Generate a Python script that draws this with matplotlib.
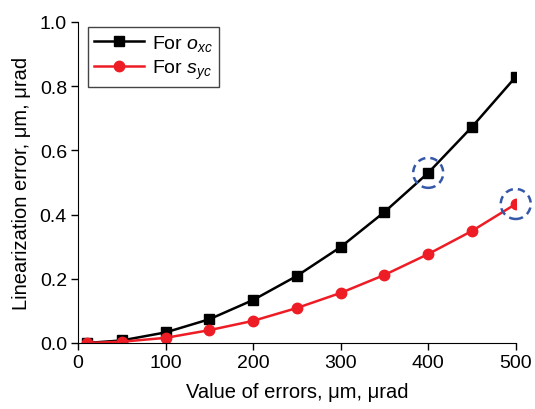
import numpy as np
import matplotlib
matplotlib.use("Agg")
import matplotlib.pyplot as plt
from matplotlib.patches import Ellipse

plt.rcParams['font.family'] = ['Liberation Sans', 'DejaVu Sans']
plt.rcParams['mathtext.fontset'] = 'custom'
plt.rcParams['mathtext.rm'] = 'Liberation Sans'
plt.rcParams['mathtext.it'] = 'Liberation Sans:italic'

# data
err = [10, 50, 100, 150, 200, 250, 300, 350, 400, 450, 500]
o_xc = [0.0, 0.008, 0.033, 0.074, 0.134, 0.209, 0.299, 0.408, 0.530, 0.673, 0.829]
s_yc = [0.0, 0.004, 0.016, 0.040, 0.069, 0.109, 0.156, 0.212, 0.277, 0.349, 0.433]
marked = [(400, 0.530), (500, 0.433)]

fig = plt.figure(figsize=(5.35, 4.1), dpi=100)
ax = fig.add_axes([0.146, 0.161, 0.818, 0.783])

ax.plot(err, o_xc, 'k-', marker='s', ms=6.5, lw=1.8, label='For $o_{xc}$')
ax.plot(err, s_yc, '-', color='#ee1c25', marker='o', ms=7.5, lw=1.8, label='For $s_{yc}$')

# dashed circles around highlighted points (radius in pixels -> data units)
rx = 15 * 500 / 438
ry = 15 * 1.0 / 321
for px, py in marked:
    ax.add_patch(Ellipse((px, py), 2*rx, 2*ry, fill=False, ls=(0, (3, 2)),
                         lw=1.8, ec='#3457a8', clip_on=False, zorder=5))

ax.set_xlim(0, 500)
ax.set_ylim(0, 1.0)
ax.set_xticks(np.arange(0, 501, 100))
ax.set_yticks(np.arange(0, 1.01, 0.2))
ax.yaxis.set_major_formatter(matplotlib.ticker.FormatStrFormatter('%.1f'))
ax.spines['top'].set_visible(False)
ax.spines['right'].set_visible(False)
ax.tick_params(direction='out', labelsize=14, length=5, width=1, pad=3)
ax.set_xlabel('Value of errors, μm, μrad', fontsize=14.5, labelpad=8)
ax.set_ylabel('Linearization error, μm, μrad', fontsize=14.5, labelpad=6)

leg = ax.legend(loc='upper left', bbox_to_anchor=(0.0, 1.015), fontsize=14,
                fancybox=False, edgecolor='#444444', framealpha=1,
                handlelength=2.6, borderpad=0.3, labelspacing=0.25,
                handletextpad=0.4)
leg.get_frame().set_linewidth(1.0)

fig.savefig('out.png', dpi=100)
